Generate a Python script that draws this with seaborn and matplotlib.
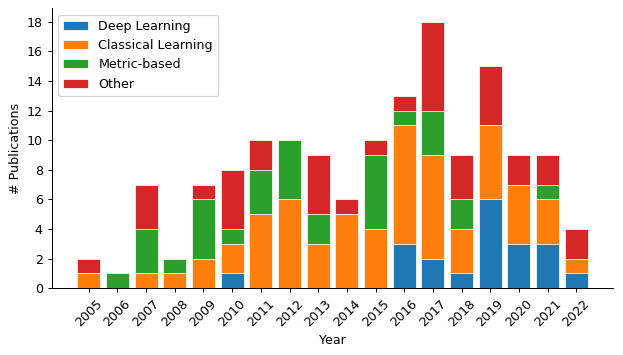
import numpy as np
import pandas as pd
import matplotlib
matplotlib.use("Agg")
import matplotlib.pyplot as plt
import seaborn as sns

# publication counts per year, split by approach
years = list(range(2005, 2023))
deep_learning = [0, 0, 0, 0, 0, 1, 0, 0, 0, 0, 0, 3, 2, 1, 6, 3, 3, 1]
classical_learning = [1, 0, 1, 1, 2, 2, 5, 6, 3, 5, 4, 8, 7, 3, 5, 4, 3, 1]
metric_based = [0, 1, 3, 1, 4, 1, 3, 4, 2, 0, 5, 1, 3, 2, 0, 0, 1, 0]
other = [1, 0, 3, 0, 1, 4, 2, 0, 4, 1, 1, 1, 6, 3, 4, 2, 2, 2]

df = pd.DataFrame({
    "Year": [str(y) for y in years],
    "Deep Learning": deep_learning,
    "Classical Learning": classical_learning,
    "Metric-based": metric_based,
    "Other": other,
})

# stacked bars are drawn as cumulative totals, tallest first
stack = ["Deep Learning", "Classical Learning", "Metric-based", "Other"]
colors = ["#1f77b4", "#ff7f0e", "#2ca02c", "#d62728"]
cum = df[stack].cumsum(axis=1)

DPI = 91
fig, ax = plt.subplots(figsize=(623 / DPI, 355 / DPI), dpi=DPI)
fig.subplots_adjust(left=0.083, right=0.9845, bottom=0.188, top=0.9766)

for name, col in reversed(list(zip(stack, colors))):
    sns.barplot(x=df["Year"], y=cum[name], color=col, saturation=1, width=0.8,
                edgecolor="white", linewidth=0.6, label=name, ax=ax)

# get back the usual matplotlib margins on the x axis
ax.autoscale(enable=True, axis="x")
ax.margins(x=0.05)
ax.autoscale_view()

ax.set_yticks(np.arange(0, 19, 2))
ax.set_xlabel("Year")
ax.set_ylabel("# Publications")
ax.tick_params(axis="x", labelrotation=45)
sns.despine(ax=ax)

handles, labels = ax.get_legend_handles_labels()
ax.legend(handles[::-1], labels[::-1], loc="upper left")

fig.savefig("out.png", dpi=DPI)
